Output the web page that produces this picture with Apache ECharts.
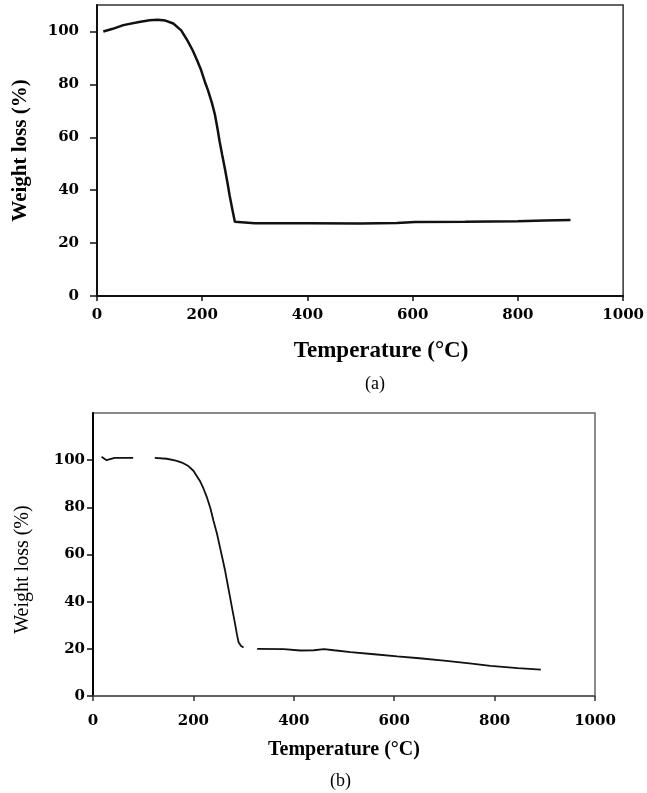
<!DOCTYPE html>
<html>
<head>
<meta charset="utf-8">
<script src="https://cdn.jsdelivr.net/npm/echarts@6/dist/echarts.min.js"></script>
<style>
  html, body { margin: 0; padding: 0; background: #fff; }
  #chart { width: 647px; height: 793px; }
</style>
</head>
<body>
<div id="chart"></div>
<script>
// (a) TGA curve
const tempA = [12, 30, 50, 80, 100, 115, 130, 145, 160, 172, 182, 190, 198, 205, 211, 218, 224, 229, 233, 238, 243, 248, 252, 257, 262, 265, 300, 400, 500, 570, 605, 700, 800, 850, 900];
const lossA = [100, 101, 102.4, 103.6, 104.2, 104.4, 104.1, 103, 100.4, 96.5, 92.8, 89.2, 85.3, 81, 77.7, 73.3, 68.7, 63.3, 58.5, 53.3, 48.2, 42.8, 38.1, 33, 28.1, 27.5, 27.5, 27.5, 27.4, 27.6, 28, 28.1, 28.3, 28.5, 28.7];

// (b) TGA curve, null = gap in the trace
const tempB = [17, 27, 43, 80, 100, 123, 147, 165, 177, 190, 200, 213, 220, 227, 234, 240, 247, 253, 258, 263, 268, 273, 278, 283, 287, 290, 295, 300, 312, 327, 380, 413, 440, 460, 480, 513, 560, 606, 650, 699, 750, 792, 846, 892];
const lossB = [101.4, 100, 101, 101, null, 101, 100.6, 99.8, 99, 97.5, 95.5, 91.2, 88, 84.2, 79.5, 74.3, 68.8, 63, 58.2, 53.3, 47.6, 41.9, 36.2, 30.6, 25.8, 22.8, 21.2, 20.6, null, 20, 19.9, 19.3, 19.4, 19.9, 19.4, 18.6, 17.7, 16.8, 16, 15, 13.8, 12.8, 11.8, 11.2];

const xTicks = [0, 1000, 200];       // min, max, interval
const yTicksA = [0, 110, 20];
const yTicksB = [0, 120, 20];

const pairs = (xs, ys) => xs.map((x, i) => [x, ys[i] == null ? '-' : ys[i]]);

const labelFont = {fontFamily: 'DejaVu Serif', fontWeight: 'bold', fontSize: 15, color: '#000', formatter: (v) => String(v)};
const nameFont = {fontFamily: 'Liberation Serif', fontWeight: 'bold', color: '#000'};

const chart = echarts.init(document.getElementById('chart'));

const option = {
  animation: false,
  backgroundColor: '#fff',
  title: [
    {text: '(a)', left: 360, top: 370, textStyle: {fontFamily: 'Liberation Serif', fontWeight: 'normal', fontSize: 18, color: '#000'}},
    {text: '(b)', left: 325, top: 767, textStyle: {fontFamily: 'Liberation Serif', fontWeight: 'normal', fontSize: 18, color: '#000'}}
  ],
  grid: [
    {left: 97, top: 5, width: 528, height: 291, show: true, borderColor: '#333', borderWidth: 1.5},
    {left: 93, top: 413, width: 502, height: 283, show: true, borderColor: '#666', borderWidth: 1.5}
  ],
  xAxis: [
    {
      gridIndex: 0, type: 'value', min: xTicks[0], max: xTicks[1], interval: xTicks[2],
      name: 'Temperature (°C)', nameLocation: 'middle', nameGap: 44,
      nameTextStyle: {...nameFont, fontSize: 23, padding: [0, 0, 0, 42]},
      axisLine: {show: true, lineStyle: {color: '#111', width: 2}},
      axisTick: {show: true, length: 5, lineStyle: {color: '#111', width: 1.5}},
      axisLabel: {...labelFont, margin: 12},
      splitLine: {show: false}
    },
    {
      gridIndex: 1, type: 'value', min: xTicks[0], max: xTicks[1], interval: xTicks[2],
      name: 'Temperature (°C)', nameLocation: 'middle', nameGap: 44,
      nameTextStyle: {...nameFont, fontSize: 20, padding: [0, 0, 0, 0]},
      axisLine: {show: true, lineStyle: {color: '#555', width: 1.5}},
      axisTick: {show: true, length: 5, lineStyle: {color: '#333', width: 1.5}},
      axisLabel: {...labelFont, margin: 18},
      splitLine: {show: false}
    }
  ],
  yAxis: [
    {
      gridIndex: 0, type: 'value', min: yTicksA[0], max: yTicksA[1], interval: yTicksA[2],
      name: 'Weight loss (%)', nameLocation: 'middle', nameGap: 66,
      nameTextStyle: {...nameFont, fontSize: 21},
      axisLine: {show: true, lineStyle: {color: '#111', width: 2}},
      axisTick: {show: true, length: 7, lineStyle: {color: '#111', width: 1.5}},
      axisLabel: {...labelFont, margin: 18, showMaxLabel: false},
      splitLine: {show: false}
    },
    {
      gridIndex: 1, type: 'value', min: yTicksB[0], max: yTicksB[1], interval: yTicksB[2],
      name: 'Weight loss (%)', nameLocation: 'middle', nameGap: 60,
      nameTextStyle: {...nameFont, fontSize: 20, fontWeight: 'normal', padding: [0, 30, 0, 0]},
      axisLine: {show: true, lineStyle: {color: '#000', width: 2}},
      axisTick: {show: true, length: 6, lineStyle: {color: '#111', width: 1.5}},
      axisLabel: {...labelFont, margin: 8, showMaxLabel: false},
      splitLine: {show: false}
    }
  ],
  series: [
    {
      type: 'line', xAxisIndex: 0, yAxisIndex: 0, data: pairs(tempA, lossA),
      showSymbol: false, smooth: false, lineStyle: {color: '#111', width: 2.5}
    },
    {
      type: 'line', xAxisIndex: 1, yAxisIndex: 1, data: pairs(tempB, lossB),
      showSymbol: false, smooth: false, connectNulls: false, lineStyle: {color: '#111', width: 1.8}
    }
  ]
};

chart.setOption(option);
</script>
</body>
</html>
